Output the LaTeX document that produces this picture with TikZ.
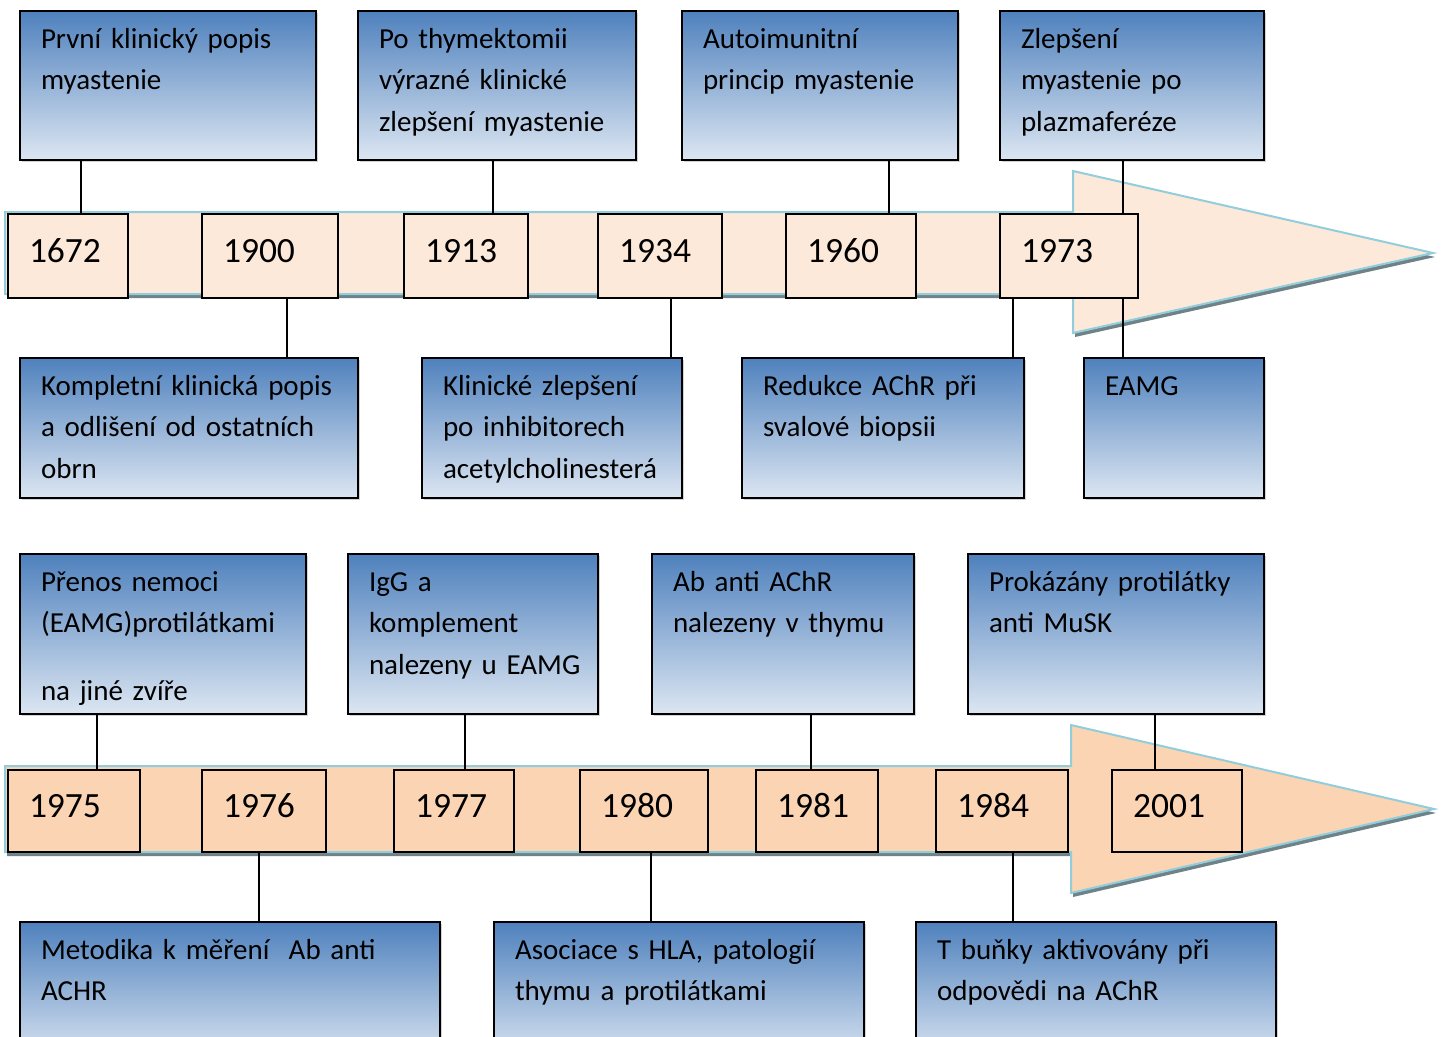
\documentclass[tikz,border=0pt]{standalone}
\usepackage{fontspec}
\setmainfont{Carlito}
\usetikzlibrary{shadows}
\definecolor{evtop}{RGB}{79,129,189}
\definecolor{evbot}{RGB}{220,230,242}
\definecolor{peachA}{RGB}{253,233,217}
\definecolor{peachB}{RGB}{251,212,180}
\definecolor{bandline}{RGB}{146,205,220}
\definecolor{bandshade}{RGB}{110,130,135}
\newcommand{\evfont}{\fontsize{29pt}{41.5pt}\selectfont}
\newcommand{\yrfont}{\fontsize{35.5pt}{40pt}\selectfont}
\begin{document}
\begin{tikzpicture}[x=1pt,y=-1pt,
  evbox/.style={draw, line width=2pt, top color=evtop, bottom color=evbot,
    anchor=north west, inner xsep=21pt, inner ysep=0pt, text height=37pt,
    align=left, font=\evfont,
    drop shadow={shadow xshift=2pt, shadow yshift=-2pt, opacity=.35}},
  yrbox/.style={draw, line width=2pt, anchor=north west, inner xsep=21pt,
    inner ysep=0pt, align=left, font=\yrfont},
  band/.style={draw=bandline, line width=2pt, line join=miter,
    preaction={fill=bandshade, transform canvas={shift={(2pt,-4pt)}}}},
  link/.style={line width=1.8pt}]
\path[use as bounding box, clip] (0,0) rectangle (1445,1036);

\draw[band, fill=peachA] (5,212) -- (1073,212) -- (1073,171) -- (1433,253)
  -- (1073,333) -- (1073,294) -- (5,294) -- cycle;
\draw[band, fill=peachB] (5,766) -- (1071,766) -- (1071,725) -- (1434,809)
  -- (1071,893) -- (1071,852) -- (5,852) -- cycle;

\begin{scope}[every node/.append style={yrbox, fill=peachA, text height=48pt, text depth=36pt}]
\node[text width=78pt] (y1672) at (7,213) {1672};
\node[text width=94pt] (y1900) at (201,213) {1900};
\node[text width=82pt] (y1913) at (403,213) {1913};
\node[text width=82pt] (y1934) at (597,213) {1934};
\node[text width=88pt] (y1960) at (785,213) {1960};
\node[text width=96pt] (y1973) at (999,213) {1973};
\end{scope}
\begin{scope}[every node/.append style={yrbox, fill=peachB, text height=47pt, text depth=35pt}]
\node[text width=90pt] (y1975) at (7,769) {1975};
\node[text width=82pt] (y1976) at (201,769) {1976};
\node[text width=78pt] (y1977) at (393,769) {1977};
\node[text width=86pt] (y1980) at (579,769) {1980};
\node[text width=80pt] (y1981) at (755,769) {1981};
\node[text width=90pt] (y1984) at (935,769) {1984};
\node[text width=88pt] (y2001) at (1111,769) {2001};
\end{scope}

\node[evbox, text width=254pt, text depth=112pt] (ev1) at (19,10) {První klinický popis\\myastenie};
\node[evbox, text width=236pt, text depth=112pt] (ev2) at (357,10) {Po thymektomii\\výrazné klinické\\zlepšení myastenie};
\node[evbox, text width=234pt, text depth=112pt] (ev3) at (681,10) {Autoimunitní\\princip myastenie};
\node[evbox, text width=222pt, text depth=112pt] (ev4) at (999,10) {Zlepšení\\myastenie po\\plazmaferéze};
\node[evbox, text width=296pt, text depth=103pt] (ev5) at (19,357) {Kompletní klinická popis\\a odlišení od ostatních\\obrn};
\node[evbox, text width=218pt, text depth=103pt] (ev6) at (421,357) {Klinické zlepšení\\po inhibitorech\\acetylcholinesterá};
\node[evbox, text width=240pt, text depth=103pt] (ev7) at (741,357) {Redukce AChR při\\svalové biopsii};
\node[evbox, text width=138pt, text depth=103pt] (ev8) at (1083,357) {EAMG};
\node[evbox, text width=244pt, text depth=123pt] (ev9) at (19,553) {Přenos nemoci\\(EAMG)protilátkami\\[26.5pt]na jiné zvíře};
\node[evbox, text width=208pt, text depth=123pt] (ev10) at (347,553) {IgG a\\komplement\\nalezeny~u~EAMG};
\node[evbox, text width=220pt, text depth=123pt] (ev11) at (651,553) {Ab anti AChR\\nalezeny v thymu};
\node[evbox, text width=254pt, text depth=123pt] (ev12) at (967,553) {Prokázány protilátky\\anti MuSK};
\node[evbox, text width=378pt, text depth=103pt] (ev13) at (19,921) {Metodika k měření\ \ Ab anti\\ACHR};
\node[evbox, text width=328pt, text depth=103pt] (ev14) at (493,921) {Asociace s HLA, patologií\\thymu a protilátkami};
\node[evbox, text width=318pt, text depth=103pt] (ev15) at (915,921) {T buňky aktivovány při\\odpovědi na AChR};

\draw[link] (ev1.south -| 81,0) -- (y1672.north -| 81,0);
\draw[link] (ev2.south -| 493,0) -- (y1913.north -| 493,0);
\draw[link] (ev3.south -| 889,0) -- (y1960.north -| 889,0);
\draw[link] (ev4.south -| 1123,0) -- (y1973.north -| 1123,0);
\draw[link] (y1900.south -| 287,0) -- (ev5.north -| 287,0);
\draw[link] (y1934.south -| 671,0) -- (ev6.north -| 671,0);
\draw[link] (y1973.south -| 1013,0) -- (ev7.north -| 1013,0);
\draw[link] (y1973.south -| 1123,0) -- (ev8.north -| 1123,0);
\draw[link] (ev9.south -| 97,0) -- (y1975.north -| 97,0);
\draw[link] (ev10.south -| 465,0) -- (y1977.north -| 465,0);
\draw[link] (ev11.south -| 811,0) -- (y1981.north -| 811,0);
\draw[link] (ev12.south -| 1155,0) -- (y2001.north -| 1155,0);
\draw[link] (y1976.south -| 259,0) -- (ev13.north -| 259,0);
\draw[link] (y1980.south -| 651,0) -- (ev14.north -| 651,0);
\draw[link] (y1984.south -| 1013,0) -- (ev15.north -| 1013,0);
\end{tikzpicture}
\end{document}
